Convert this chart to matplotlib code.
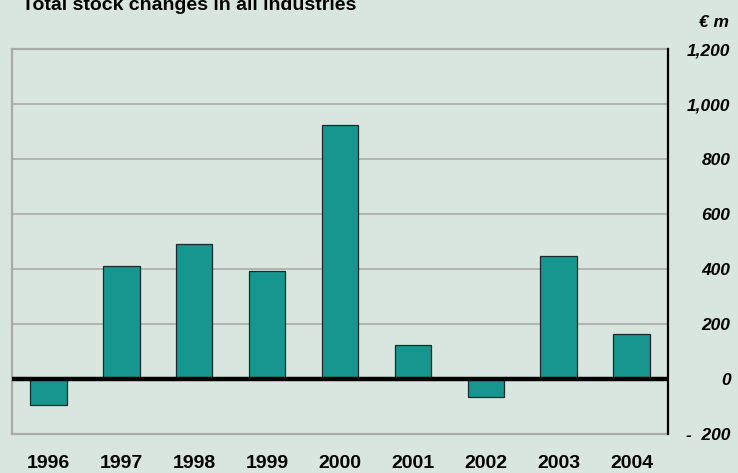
import numpy as np
import matplotlib.pyplot as plt

plt.rcParams['font.family'] = ['Liberation Sans', 'DejaVu Sans']

years = ['1996', '1997', '1998', '1999', '2000', '2001', '2002', '2003', '2004']
stock_changes = [-95, 411, 491, 393, 924, 124, -65, 447, 164]   # EUR m
y_ticks = [-200, 0, 200, 400, 600, 800, 1000, 1200]
y_labels = ['-  200', '0', '200', '400', '600', '800', '1,000', '1,200']

bg = '#d9e6df'
bar_col = '#16968f'
grid_col = '#a9aaa9'

fig = plt.figure(figsize=(7.38, 4.73), dpi=100)
fig.patch.set_facecolor(bg)
ax = fig.add_axes([12/738, 39/473, 656/738, 385/473])
ax.set_facecolor(bg)

x = np.arange(len(years))
ax.bar(x, stock_changes, width=0.5, color=bar_col, edgecolor='#1a2a28', linewidth=0.9, zorder=3)

ax.set_xlim(-0.5, len(years) - 0.5)
ax.set_ylim(-200, 1200)

# horizontal grid
for v in y_ticks:
    ax.axhline(v, color=grid_col, linewidth=1.2, zorder=1)
ax.axhline(0, color='black', linewidth=3.2, zorder=4)

for s in ['left', 'top', 'bottom']:
    ax.spines[s].set_color(grid_col)
    ax.spines[s].set_linewidth(1.6)
ax.spines['right'].set_color('black')
ax.spines['right'].set_linewidth(1.6)
ax.spines['right'].set_zorder(5)

ax.yaxis.tick_right()
ax.set_yticks(y_ticks)
ax.set_yticklabels(y_labels, fontsize=12.5, fontweight='bold', fontstyle='italic', ha='right')
ax.tick_params(axis='y', length=0, pad=45)

ax.set_xticks(x)
ax.set_xticklabels(years, fontsize=14, fontweight='bold')
ax.tick_params(axis='x', length=0, pad=15)

fig.text(22/738, 1 - 10/473, 'Total stock changes in all industries', fontsize=14,
         fontweight='bold', va='baseline', ha='left')
fig.text(729/738, 1 - 27/473, '€ m', fontsize=12.5, fontweight='bold', fontstyle='italic',
         va='baseline', ha='right')

fig.savefig('out.png', dpi=100, facecolor=bg)
